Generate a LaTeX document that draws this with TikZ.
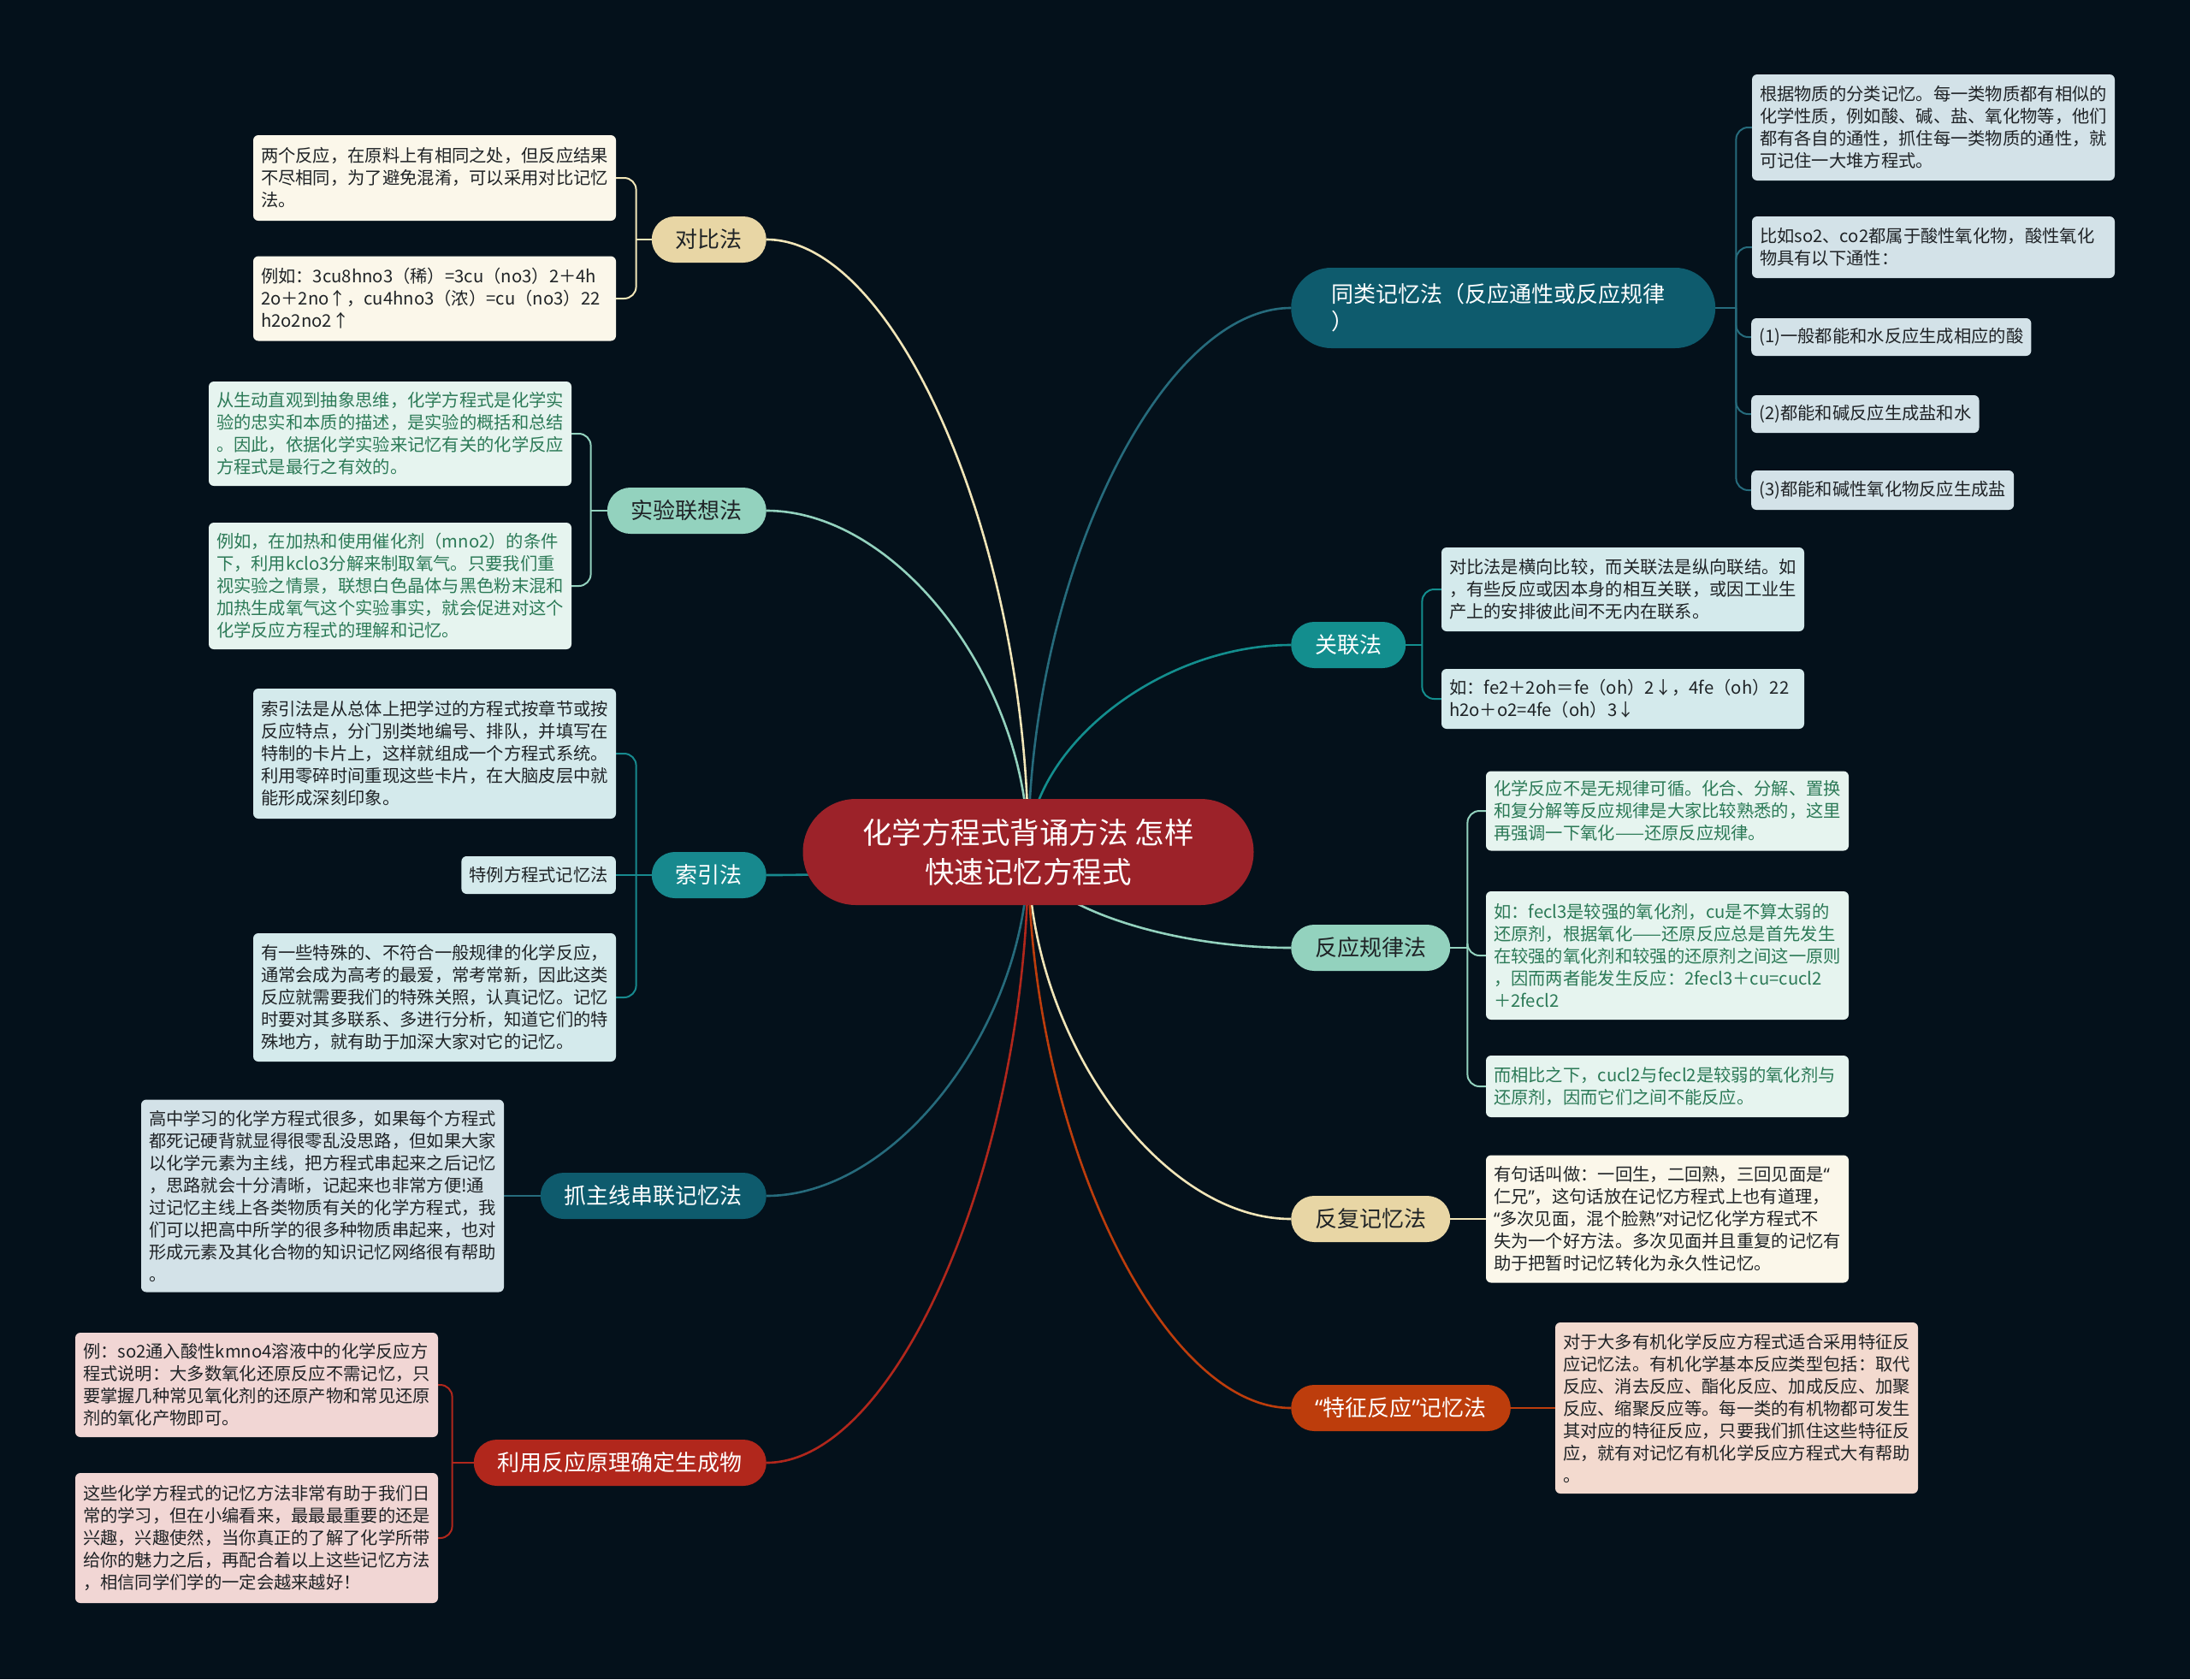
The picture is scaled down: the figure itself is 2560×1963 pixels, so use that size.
\documentclass[tikz,border=0pt]{standalone}
\usepackage{fontspec}
\setmainfont{Noto Sans CJK SC}
\newfontfamily\quotefont{Noto Sans}
\newcommand\openq{{\quotefont “}}
\newcommand\closeq{{\quotefont ”}}
\usetikzlibrary{backgrounds}

\definecolor{bgnavy}{HTML}{04111B}
\definecolor{rootred}{HTML}{9C2229}
\definecolor{sand}{HTML}{E8D6A5}
\definecolor{sandline}{HTML}{F2E6B8}
\definecolor{mint}{HTML}{93D2BE}
\definecolor{cyanteal}{HTML}{17898E}
\definecolor{petrol}{HTML}{0E5B6D}
\definecolor{brick}{HTML}{B1271C}
\definecolor{sea}{HTML}{138E8E}
\definecolor{rust}{HTML}{BD3D0C}
\definecolor{cream}{HTML}{FBF7EA}
\definecolor{mintpale}{HTML}{E6F4EF}
\definecolor{tealpale}{HTML}{D4EAEC}
\definecolor{greypale}{HTML}{D3E2E8}
\definecolor{rosepale}{HTML}{F1D6D4}
\definecolor{peachpale}{HTML}{F3DACF}
\definecolor{inkdark}{HTML}{1F2326}
\definecolor{inkgreen}{HTML}{2C7A57}

\begin{document}
\begin{tikzpicture}[x=1pt,y=-1pt]

		\tikzstyle{rootbox}=[rectangle,rounded corners=62pt,
			fill=rootred,text=white,
			minimum width=527pt,minimum height=124pt,
			align=center,inner sep=0pt,
			font=\fontsize{34.5}{46}\selectfont]
		\tikzstyle{branchbox}=[rectangle,rounded corners=27pt,
			minimum height=54pt,inner xsep=28pt,inner ysep=0pt,
			text=inkdark,
			font=\fontsize{26}{32}\selectfont]
		\tikzstyle{leafbox}=[rectangle,rounded corners=6pt,
			inner xsep=9pt,inner ysep=0pt,
			align=left,text=inkdark,
			font=\fontsize{20.3}{26}\selectfont]
		\tikzstyle{wideleaf}=[leafbox,text width=406pt]
		\tikzstyle{trunk}=[line width=2.6pt]
		\tikzstyle{twig}=[line width=2pt,rounded corners=14pt]

		\useasboundingbox (0,0) rectangle (2560,1963);

		\node[rootbox]	(root)	at (1202,996)	{化学方程式背诵方法 怎样\\快速记忆方程式};

		% left side
		\node[branchbox,fill=sand,anchor=east]	(duibi)	at (896,280)	{对比法};
		\node[branchbox,fill=mint,anchor=east]	(shiyan)	at (896,597)	{实验联想法};
		\node[branchbox,fill=cyanteal,text=white,anchor=east]	(suoyin)	at (896,1023)	{索引法};
		\node[branchbox,fill=petrol,text=white,anchor=east]	(zhuxian)	at (896,1398)	{抓主线串联记忆法};
		\node[branchbox,fill=brick,text=white,anchor=east]	(yuanli)	at (896,1710)	{利用反应原理确定生成物};

		% right side
		\node[branchbox,fill=petrol,text=white,anchor=west,
			rounded corners=47pt,minimum height=94pt,inner xsep=47pt,
			text width=402pt,align=left]	(tonglei)	at (1509,360)	{同类记忆法（反应通性或反应规律\\）};
		\node[branchbox,fill=sea,text=white,anchor=west]	(guanlian)	at (1509,754)	{关联法};
		\node[branchbox,fill=mint,anchor=west]	(guilv)	at (1509,1108)	{反应规律法};
		\node[branchbox,fill=sand,anchor=west]	(fufu)	at (1509,1425)	{反复记忆法};
		\node[branchbox,fill=rust,text=white,anchor=west]	(tezheng)	at (1509,1646)	{\openq 特征反应\closeq 记忆法};

		\node[wideleaf,fill=cream,minimum height=100pt]	(duibi1)	at (508,208)	{两个反应，在原料上有相同之处，但反应结果\\不尽相同，为了避免混淆，可以采用对比记忆\\法。};
		\node[wideleaf,fill=cream,minimum height=99pt]	(duibi2)	at (508,349)	{例如：3cu8hno3（稀）=3cu（no3）2＋4h\\2o＋2no↑，cu4hno3（浓）=cu（no3）22\\h2o2no2↑};

		\node[wideleaf,fill=mintpale,text=inkgreen,minimum height=122pt]	(shiyan1)	at (456,507)	{从生动直观到抽象思维，化学方程式是化学实\\验的忠实和本质的描述，是实验的概括和总结\\。因此，依据化学实验来记忆有关的化学反应\\方程式是最行之有效的。};
		\node[wideleaf,fill=mintpale,text=inkgreen,minimum height=148pt]	(shiyan2)	at (456,685)	{例如，在加热和使用催化剂（mno2）的条件\\下，利用kclo3分解来制取氧气。只要我们重\\视实验之情景，联想白色晶体与黑色粉末混和\\加热生成氧气这个实验事实，就会促进对这个\\化学反应方程式的理解和记忆。};

		\node[wideleaf,fill=tealpale,minimum height=152pt]	(suoyin1)	at (508,881)	{索引法是从总体上把学过的方程式按章节或按\\反应特点，分门别类地编号、排队，并填写在\\特制的卡片上，这样就组成一个方程式系统。\\利用零碎时间重现这些卡片，在大脑皮层中就\\能形成深刻印象。};
		\node[leafbox,fill=tealpale,minimum height=44pt,anchor=east]	(suoyin2)	at (720,1023)	{特例方程式记忆法};
		\node[wideleaf,fill=tealpale,minimum height=150pt]	(suoyin3)	at (508,1166)	{有一些特殊的、不符合一般规律的化学反应，\\通常会成为高考的最爱，常考常新，因此这类\\反应就需要我们的特殊关照，认真记忆。记忆\\时要对其多联系、多进行分析，知道它们的特\\殊地方，就有助于加深大家对它的记忆。};

		\node[wideleaf,fill=greypale,minimum height=225pt]	(zhuxian1)	at (377,1398)	{高中学习的化学方程式很多，如果每个方程式\\都死记硬背就显得很零乱没思路，但如果大家\\以化学元素为主线，把方程式串起来之后记忆\\，思路就会十分清晰，记起来也非常方便!通\\过记忆主线上各类物质有关的化学方程式，我\\们可以把高中所学的很多种物质串起来，也对\\形成元素及其化合物的知识记忆网络很有帮助\\。};

		\node[wideleaf,fill=rosepale,minimum height=122pt]	(yuanli1)	at (300,1619)	{例：so2通入酸性kmno4溶液中的化学反应方\\程式说明：大多数氧化还原反应不需记忆，只\\要掌握几种常见氧化剂的还原产物和常见还原\\剂的氧化产物即可。};
		\node[wideleaf,fill=rosepale,minimum height=152pt]	(yuanli2)	at (300,1798)	{这些化学方程式的记忆方法非常有助于我们日\\常的学习，但在小编看来，最最最重要的还是\\兴趣，兴趣使然，当你真正的了解了化学所带\\给你的魅力之后，再配合着以上这些记忆方法\\，相信同学们学的一定会越来越好！};

		\node[wideleaf,fill=greypale,minimum height=124pt]	(tonglei1)	at (2260,149)	{根据物质的分类记忆。每一类物质都有相似的\\化学性质，例如酸、碱、盐、氧化物等，他们\\都有各自的通性，抓住每一类物质的通性，就\\可记住一大堆方程式。};
		\node[wideleaf,fill=greypale,minimum height=72pt]	(tonglei2)	at (2260,289)	{比如so2、co2都属于酸性氧化物，酸性氧化\\物具有以下通性：};
		\node[leafbox,fill=greypale,minimum height=44pt,anchor=west]	(tonglei3)	at (2047,394)	{(1)一般都能和水反应生成相应的酸};
		\node[leafbox,fill=greypale,minimum height=44pt,anchor=west]	(tonglei4)	at (2047,484)	{(2)都能和碱反应生成盐和水};
		\node[leafbox,fill=greypale,minimum height=46pt,anchor=west]	(tonglei5)	at (2047,573)	{(3)都能和碱性氧化物反应生成盐};

		\node[wideleaf,fill=tealpale,minimum height=98pt]	(guanlian1)	at (1897,689)	{对比法是横向比较，而关联法是纵向联结。如\\，有些反应或因本身的相互关联，或因工业生\\产上的安排彼此间不无内在联系。};
		\node[wideleaf,fill=tealpale,minimum height=70pt]	(guanlian2)	at (1897,817)	{如：fe2＋2oh＝fe（oh）2↓，4fe（oh）22\\h2o＋o2=4fe（oh）3↓};

		\node[wideleaf,fill=mintpale,text=inkgreen,minimum height=93pt]	(guilv1)	at (1949,948)	{化学反应不是无规律可循。化合、分解、置换\\和复分解等反应规律是大家比较熟悉的，这里\\再强调一下氧化——还原反应规律。};
		\node[wideleaf,fill=mintpale,text=inkgreen,minimum height=150pt]	(guilv2)	at (1949,1117)	{如：fecl3是较强的氧化剂，cu是不算太弱的\\还原剂，根据氧化——还原反应总是首先发生\\在较强的氧化剂和较强的还原剂之间这一原则\\，因而两者能发生反应：2fecl3＋cu=cucl2\\＋2fecl2};
		\node[wideleaf,fill=mintpale,text=inkgreen,minimum height=72pt]	(guilv3)	at (1949,1270)	{而相比之下，cucl2与fecl2是较弱的氧化剂与\\还原剂，因而它们之间不能反应。};

		\node[wideleaf,fill=cream,minimum height=149pt]	(fufu1)	at (1949,1425)	{有句话叫做：一回生，二回熟，三回见面是\openq\\仁兄\closeq，这句话放在记忆方程式上也有道理，\\\openq 多次见面，混个脸熟\closeq 对记忆化学方程式不\\失为一个好方法。多次见面并且重复的记忆有\\助于把暂时记忆转化为永久性记忆。};

		\node[wideleaf,fill=peachpale,minimum height=200pt]	(tezheng1)	at (2030,1646)	{对于大多有机化学反应方程式适合采用特征反\\应记忆法。有机化学基本反应类型包括：取代\\反应、消去反应、酯化反应、加成反应、加聚\\反应、缩聚反应等。每一类的有机物都可发生\\其对应的特征反应，只要我们抓住这些特征反\\应，就有对记忆有机化学反应方程式大有帮助\\。};

		\begin{pgfonlayer}{background}
		\fill[bgnavy] (0,0) rectangle (2560,1963);

		\draw[trunk,sandline]	(root.center) .. controls +(0,-358) and +(153,0) .. (duibi.east);
		\draw[trunk,mint]	(root.center) .. controls +(0,-200) and +(153,0) .. (shiyan.east);
		\draw[trunk,cyanteal]	(root.center) .. controls +(0,14) and +(153,0) .. (suoyin.east);
		\draw[trunk,petrol!90!white]	(root.center) .. controls +(0,201) and +(153,0) .. (zhuxian.east);
		\draw[trunk,brick]	(root.center) .. controls +(0,357) and +(153,0) .. (yuanli.east);
		\draw[trunk,petrol!90!white]	(root.center) .. controls +(0,-318) and +(-154,0) .. (tonglei.west);
		\draw[trunk,sea]	(root.center) .. controls +(0,-121) and +(-154,0) .. (guanlian.west);
		\draw[trunk,mint]	(root.center) .. controls +(0,56) and +(-154,0) .. (guilv.west);
		\draw[trunk,sandline]	(root.center) .. controls +(0,215) and +(-154,0) .. (fufu.west);
		\draw[trunk,rust]	(root.center) .. controls +(0,325) and +(-154,0) .. (tezheng.west);

		\draw[twig,sandline]	(duibi.west) -- ++(-18,0) coordinate (duibij);
		\draw[twig,sandline]	(duibij) |- (duibi1.east);
		\draw[twig,sandline]	(duibij) |- (duibi2.east);

		\draw[twig,mint]	(shiyan.west) -- ++(-19,0) coordinate (shiyanj);
		\draw[twig,mint]	(shiyanj) |- (shiyan1.east);
		\draw[twig,mint]	(shiyanj) |- (shiyan2.east);

		\draw[twig,cyanteal]	(suoyin.west) -- ++(-18,0) coordinate (suoyinj);
		\draw[twig,cyanteal]	(suoyinj) |- (suoyin1.east);
		\draw[twig,cyanteal]	(suoyinj) -- (suoyin2.east);
		\draw[twig,cyanteal]	(suoyinj) |- (suoyin3.east);

		\draw[twig,petrol!90!white]	(zhuxian.west) -- (zhuxian1.east);

		\draw[twig,brick]	(yuanli.west) -- ++(-25,0) coordinate (yuanlij);
		\draw[twig,brick]	(yuanlij) |- (yuanli1.east);
		\draw[twig,brick]	(yuanlij) |- (yuanli2.east);

		\draw[twig,petrol!90!white]	(tonglei.east) -- ++(24,0) coordinate (tongleij);
		\foreach \k in {1,...,5}
			\draw[twig,petrol!90!white]	(tongleij) |- (tonglei\k.west);

		\draw[twig,sea]	(guanlian.east) -- ++(19,0) coordinate (guanlianj);
		\draw[twig,sea]	(guanlianj) |- (guanlian1.west);
		\draw[twig,sea]	(guanlianj) |- (guanlian2.west);

		\draw[twig,mint]	(guilv.east) -- ++(20,0) coordinate (guilvj);
		\draw[twig,mint]	(guilvj) |- (guilv1.west);
		\draw[twig,mint]	(guilvj) |- (guilv2.west);
		\draw[twig,mint]	(guilvj) |- (guilv3.west);

		\draw[twig,sandline]	(fufu.east) -- (fufu1.west);
		\draw[twig,rust]	(tezheng.east) -- (tezheng1.west);
		\end{pgfonlayer}

	\end{tikzpicture}
\end{document}
